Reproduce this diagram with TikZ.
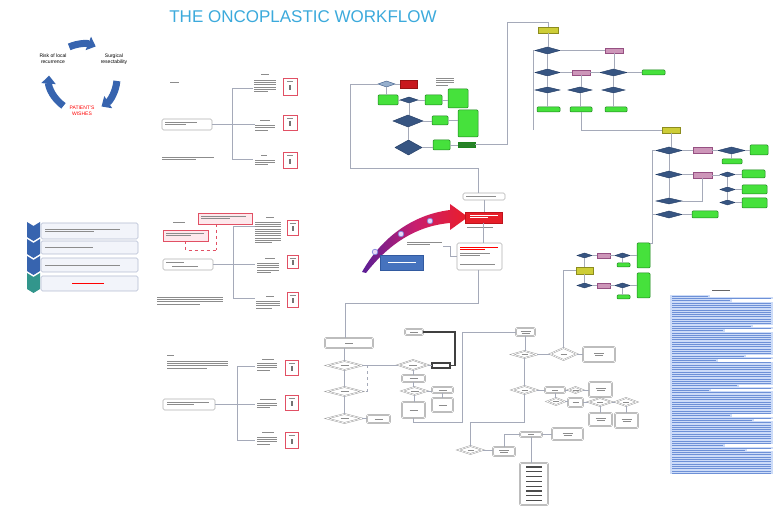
\documentclass[tikz,border=0pt]{standalone}
\usepackage{fontspec}
\setmainfont{Liberation Sans}
\usetikzlibrary{shapes.geometric,arrows.meta,calc}
\definecolor{ttl}{RGB}{60,170,220}
\definecolor{cyc}{RGB}{55,100,175}
\definecolor{chvt}{RGB}{50,150,140}
\definecolor{grn}{RGB}{70,225,60}
\definecolor{grnd}{RGB}{30,130,30}
\definecolor{dgrn}{RGB}{40,130,40}
\definecolor{dia}{RGB}{55,85,130}
\definecolor{diad}{RGB}{35,60,100}
\definecolor{dial}{RGB}{150,175,205}
\definecolor{pnk}{RGB}{205,150,185}
\definecolor{pnkd}{RGB}{150,80,130}
\definecolor{yel}{RGB}{205,205,55}
\definecolor{yeld}{RGB}{140,140,30}
\definecolor{lnk}{RGB}{165,170,185}
\definecolor{rbx}{RGB}{225,80,100}
\definecolor{rbxf}{RGB}{253,232,236}
\definecolor{txg}{RGB}{140,140,140}
\definecolor{nhl}{RGB}{205,220,248}
\definecolor{nbl}{RGB}{110,145,215}
\definecolor{cbl}{RGB}{70,115,190}
\definecolor{cbld}{RGB}{50,90,160}
\definecolor{rdf}{RGB}{200,25,30}
\definecolor{rdd}{RGB}{150,20,20}
\definecolor{crf}{RGB}{230,30,40}
\definecolor{crd}{RGB}{190,20,30}
\definecolor{lbf}{RGB}{242,244,250}
\definecolor{lbd}{RGB}{180,188,210}
\definecolor{arP}{RGB}{90,30,150}
\definecolor{arM}{RGB}{200,30,110}
\definecolor{arR}{RGB}{235,30,40}
\definecolor{ciD}{RGB}{120,130,220}
\definecolor{ciF}{RGB}{230,215,245}
\newcommand\mybx[6]{\node[#2, minimum width={(#5-#3)*1pt}, minimum height={(#6-#4)*1pt}] (#1) at ({(#3+#5)/2},{(#4+#6)/2}) {};}
\newcommand\mytb[5][txg]{%
  \foreach \i in {1,...,#5}{%
    \pgfmathsetmacro\mylen{((\i==#5)&&(#5>1))?0.65*#4:#4}%
    \draw[#1, line width=0.7pt] (#2,{#3+(\i-1)*2.3}) -- ++(\mylen,0);
  }%
}
\begin{document}
\begin{tikzpicture}[x=1pt,y=-1pt,
  every node/.style={inner sep=0pt, outer sep=0pt},
  ln/.style={draw=lnk, line width=0.5pt},
  gb/.style={draw=grnd, fill=grn, rounded corners=1pt, line width=0.5pt},
  dg/.style={draw=grnd, fill=dgrn, line width=0.5pt},
  dd/.style={diamond, draw=diad, fill=dia, line width=0.4pt},
  ld/.style={diamond, draw=dia, fill=dial, line width=0.4pt},
  pb/.style={draw=pnkd, fill=pnk, line width=0.4pt},
  yb/.style={draw=yeld, fill=yel, line width=0.4pt},
  rd/.style={draw=rdd, fill=rdf},
  crbox/.style={draw=crd, fill=crf},
  wb/.style={draw=gray!80, double, double distance=0.7pt, rounded corners=1.2pt, line width=0.45pt, fill=white},
  wd/.style={diamond, draw=gray!80, double, double distance=0.6pt, line width=0.45pt, fill=white},
  thk/.style={draw=black!75, line width=1.1pt, fill=white},
  gbox/.style={draw=gray!60, rounded corners=1.5pt, line width=0.6pt, fill=white},
  rbox/.style={draw=rbx, line width=0.7pt, fill=white},
  pinkbox/.style={draw=rbx, line width=0.7pt, fill=rbxf},
  bluebox/.style={draw=cbld, fill=cbl},
  cyctxt/.style={font=\fontsize{5}{5.6}\selectfont, align=center}
]
\fill[white] (0,0) rectangle (777,510);
\useasboundingbox (0,0) rectangle (777,510);

% title
\node[text=ttl, font=\fontsize{17}{19}\selectfont] (title) at (303,17) {THE ONCOPLASTIC WORKFLOW};

% cycle
\draw[cyc, line width=7pt, -{Triangle[width=14pt,length=8pt]}] ({83+34*cos(114)},{78-34*sin(114)}) arc[start angle=-114, end angle=-68, radius=34];
\draw[cyc, line width=7pt, -{Triangle[width=14pt,length=8pt]}] ({83+34*cos(5)},{78+34*sin(5)}) arc[start angle=5, end angle=57, radius=34];
\draw[cyc, line width=7pt, -{Triangle[width=14pt,length=8pt]}] ({83+34*cos(125)},{78+34*sin(125)}) arc[start angle=125, end angle=184, radius=34];
\node[cyctxt] (risk) at (53,59) {Risk of local\\recurrence};
\node[cyctxt] (surg) at (114,59) {Surgical\\resectability};
\node[cyctxt, text=red] (pat) at (82,111) {PATIENT'S\\WISHES};

% chevron list
\foreach \ya/\yb/\cc in {222/237/cyc, 239/254/cyc, 256/271/cyc, 273/289/chvt}{
  \fill[\cc] (27,\ya) -- (33.5,{\ya+4}) -- (40,\ya) -- (40,\yb) -- (33.5,{\yb+4}) -- (27,\yb) -- cycle;
}
\foreach \ya/\yb in {223/239, 241/254, 258/272, 276/291}{
  \draw[fill=lbf, draw=lbd, rounded corners=1.5pt, line width=0.6pt] (41,\ya) rectangle (138,\yb);
}
\mytb{45}{229}{75}{2}
\mytb{45}{247.5}{48}{1}
\mytb{45}{265}{75}{1}
\mytb[red]{72}{283.5}{32}{1}

% panel 1
\mytb{170}{82}{9}{1}
\mybx{pa}{gbox}{162}{119}{212}{130}
\mytb{165}{122.5}{32}{2}
\mytb{162}{157}{52}{2}
\coordinate (pa1) at (253,88); \coordinate (pa2) at (255,124.5); \coordinate (pa3) at (253,159);
\coordinate (sa1) at (232,88); \coordinate (sa3) at (232,159);
\draw[ln] (pa.east) -- (pa2);
\draw[ln] (pa1) -- (sa1) -- (sa3) -- (pa3);
\mytb{261}{74}{8}{1}\mytb{254}{80}{22}{6}
\mytb{260}{120}{10}{1}\mytb{255}{125.5}{20}{3}
\mytb{261}{155}{6}{1}\mytb{255}{160}{20}{3}
\mybx{ra1}{rbox}{283}{78}{297}{95}
\mybx{ra2}{rbox}{283}{115}{297}{130}
\mybx{ra3}{rbox}{283}{152}{297}{168}

% panel 2
\mytb{173}{222}{12}{1}
\mybx{pr1}{pinkbox}{198}{213}{252}{224}
\mytb{201}{216.5}{45}{2}
\mybx{pr2}{pinkbox}{163}{230}{208}{241}
\mytb{166}{233.5}{38}{2}
\mybx{pbx}{gbox}{163}{259}{213}{270}
\mytb{166}{262.5}{18}{1}\mytb{172}{266}{26}{1}
\mytb{157}{297}{66}{4}
\coordinate (pj) at (216,250);
\draw[rbx, dashed, line width=0.5pt] (pr2.south) |- (pj);
\draw[rbx, dashed, line width=0.5pt] (pr1.south -| pj) -- (pj);
\coordinate (pb1) at (255,226); \coordinate (pb2) at (255,264.5); \coordinate (pb3) at (255,298);
\coordinate (sb1) at (233,226); \coordinate (sb3) at (233,298);
\draw[ln] (pbx.east) -- (pb2);
\draw[ln] (pb1) -- (sb1) -- (sb3) -- (pb3);
\mytb{266}{217}{8}{1}\mytb{255}{222}{26}{10}
\mytb{265}{258}{10}{1}\mytb{257}{263}{22}{5}
\mytb{266}{296}{8}{1}\mytb{256}{301}{24}{4}
\mybx{rb1}{rbox}{287}{220}{298}{235}
\mybx{rb2}{rbox}{287}{255}{298}{268}
\mybx{rb3}{rbox}{287}{292}{298}{307}

% panel 3
\mytb{167}{355}{7}{1}
\mytb{167}{361}{61}{4}
\mybx{pc}{gbox}{163}{399}{215}{410}
\mytb{167}{402.5}{42}{2}
\coordinate (pc1) at (255,366); \coordinate (pc2) at (255,404.5); \coordinate (pc3) at (255,440);
\coordinate (sc1) at (237,366); \coordinate (sc3) at (237,440);
\draw[ln] (pc.east) -- (pc2);
\draw[ln] (pc1) -- (sc1) -- (sc3) -- (pc3);
\mytb{262}{359}{12}{1}\mytb{257}{363}{20}{4}
\mytb{260}{399}{16}{1}\mytb{257}{403}{20}{3}
\mytb{262}{432}{12}{1}\mytb{257}{437}{20}{4}
\mybx{rc1}{rbox}{285}{360}{298}{375}
\mybx{rc2}{rbox}{285}{395}{298}{410}
\mybx{rc3}{rbox}{285}{432}{298}{448}
\foreach \n in {ra1,ra2,ra3,rb1,rb2,rb3,rc1,rc2,rc3}{
  \draw[txg, line width=0.6pt] ($(\n.north)+(-3,3)$) -- ++(6,0);
  \fill[black!55] ($(\n.center)+(-1,-1)$) rectangle ++(2,5);
}

% central arrow
\shade[left color=arP, right color=arR, middle color=arM]
  (362,272) .. controls (380,240) and (410,215) .. (450,210) -- (450,204) -- (468,217) -- (450,230) -- (450,223) .. controls (415,226) and (388,245) .. (366,273) -- cycle;
\foreach \px/\py in {375/252, 401/234, 430/221}{
  \draw[draw=ciD, fill=ciF, line width=0.6pt] (\px,\py) circle (2.8);
}
\mybx{cb}{bluebox}{380}{255}{423}{270}
\mytb[white]{388}{262}{28}{1}
\mytb{407}{242}{35}{2}
\mybx{ct}{gbox}{463}{193}{505}{200}
\mytb{466}{196.5}{30}{1}
\mybx{cr}{crbox}{465}{212}{502}{223}
\mytb[white]{470}{215.5}{28}{2}
\mytb{467}{227}{26}{1}
\mybx{cw}{gbox}{457}{243}{502}{270}
\mytb[red]{460}{247}{38}{2}
\mytb{460}{253.5}{30}{2}
\mytb{460}{264}{35}{1}
\coordinate (cj) at (450,246);
\draw[ln] (443,246) -- (cj) |- (cw.west);
\draw[ln] (ct.south) -- (ct.south |- cr.north);
\draw[ln] (cr.south) -- (cr.south |- cw.north);

% top green flowchart
\mybx{td1}{ld}{378}{81}{395}{87}
\mybx{tr}{rd}{400}{80}{417}{88}
\mytb{436}{78}{18}{4}
\mybx{tg1}{gb}{378}{95}{398}{105}
\mybx{td2}{dd}{400}{97}{418}{103}
\mybx{tg2}{gb}{425}{95}{442}{105}
\mybx{tg3}{gb}{448}{89}{468}{108}
\mybx{td3}{dd}{393}{115}{423}{127}
\mybx{tg4}{gb}{432}{116}{448}{125}
\mybx{tg5}{gb}{458}{110}{478}{137}
\mybx{td4}{dd}{395}{140}{422}{155}
\mybx{tg6}{gb}{433}{140}{450}{150}
\mybx{tg7}{dg}{458}{142}{475}{147}
\draw[ln] (td1.east) -- (tr.west);
\draw[ln] (td1.south) -- (td1.south |- tg1.north);
\draw[ln] (tg1.east) -- (td2.west);
\draw[ln] (td2.east) -- (tg2.west);
\draw[ln] (tg2.east) -- (tg2.east -| tg3.west);
\draw[ln] (td2.south) -- (td2.south |- td3.north);
\draw[ln] (td3.east) -- (td3.east -| tg4.west);
\draw[ln] (tg4.east) -- (tg4.east -| tg5.west);
\draw[ln] (td3.south) -- (td3.south |- td4.north);
\draw[ln] (td4.east) -- (td4.east -| tg6.west);
\draw[ln] (tg6.east) -- (tg6.east -| tg7.west);
\coordinate (f1) at (350,168); \coordinate (f2) at (478,168);
\draw[ln] (td1.west) -| (f1) -- (f2) -- (f2 |- ct.north);

% top right flowchart
\mybx{yb1}{yb}{538}{27}{558}{33}
\mybx{rd1}{dd}{535}{47}{560}{54}
\mybx{rp1}{pb}{605}{48}{623}{53}
\mybx{rd2}{dd}{535}{69}{560}{76}
\mybx{rp2}{pb}{572}{70}{590}{75}
\mybx{rd3}{dd}{600}{69}{627}{76}
\mybx{rg1}{gb}{642}{70}{665}{75}
\mybx{rd4}{dd}{535}{87}{560}{93}
\mybx{rd5}{dd}{568}{87}{592}{93}
\mybx{rd6}{dd}{602}{87}{625}{93}
\mybx{rg2}{gb}{537}{107}{560}{112}
\mybx{rg3}{gb}{570}{107}{592}{112}
\mybx{rg4}{gb}{605}{107}{627}{112}
\coordinate (c1) at (507,22);
\draw[ln] (tg7.east) -| (c1) -| (yb1.north);
\draw[ln] (yb1.south) -- (yb1.south |- rd1.north);
\draw[ln] (rd1.east) -- (rd1.east -| rp1.west);
\draw[ln] (rd1.south) -- (rd1.south |- rd2.north);
\draw[ln] (rd2.east) -- (rp2.west);
\draw[ln] (rp2.east) -- (rd3.west);
\draw[ln] (rd3.east) -- (rd3.east -| rg1.west);
\draw[ln] (rp1.south) -- (rp1.south |- rd3.north);
\draw[ln] (rd2.south) -- (rd2.south |- rd4.north);
\draw[ln] (rd4.south) -- (rd4.south |- rg2.north);
\draw[ln] (rp2.south) -- (rp2.south |- rd5.north);
\draw[ln] (rd5.south) -- (rd5.south |- rg3.north);
\draw[ln] (rd3.south) -- (rd3.south |- rd6.north);
\draw[ln] (rd6.south) -- (rd6.south |- rg4.north);
\coordinate (c4) at (533,130);
\draw[ln] (rd1.west) -| (c4);

% right flowchart
\mybx{yb2}{yb}{662}{127}{680}{133}
\mybx{qd1}{dd}{656}{147}{682}{154}
\mybx{qp1}{pb}{693}{147}{712}{153}
\mybx{qd2}{dd}{718}{147}{745}{154}
\mybx{qg1}{gb}{750}{145}{768}{155}
\mybx{qg2}{gb}{722}{159}{742}{164}
\mybx{qd3}{dd}{656}{171}{682}{178}
\mybx{qp2}{pb}{693}{172}{712}{178}
\mybx{qs1}{dd}{720}{172}{735}{177}
\mybx{qs2}{dd}{720}{187}{735}{192}
\mybx{qs3}{dd}{720}{200}{735}{205}
\mybx{qg3}{gb}{742}{170}{765}{178}
\mybx{qg4}{gb}{742}{185}{767}{194}
\mybx{qg5}{gb}{742}{198}{767}{208}
\mybx{qd4}{dd}{656}{198}{682}{204}
\mybx{qd5}{dd}{656}{211}{682}{218}
\mybx{qg6}{gb}{692}{211}{718}{218}
\draw[ln] (rg3.south) |- (yb2.west);
\draw[ln] (yb2.south) -- (yb2.south |- qd1.north);
\draw[ln] (qd1.east) -- (qd1.east -| qp1.west);
\draw[ln] (qp1.east) -- (qp1.east -| qd2.west);
\draw[ln] (qd2.east) -- (qd2.east -| qg1.west);
\draw[ln] (qd2.south) -- (qd2.south |- qg2.north);
\draw[ln] (qd1.south) -- (qd1.south |- qd3.north);
\draw[ln] (qd3.east) -- (qd3.east -| qp2.west);
\draw[ln] (qp2.east) -- (qp2.east -| qs1.west);
\draw[ln] (qs1.east) -- (qs1.east -| qg3.west);
\draw[ln] (qs1.south) -- (qs2.north);
\draw[ln] (qs2.south) -- (qs3.north);
\draw[ln] (qs2.east) -- (qs2.east -| qg4.west);
\draw[ln] (qs3.east) -- (qs3.east -| qg5.west);
\draw[ln] (qd3.south) -- (qd3.south |- qd4.north);
\draw[ln] (qp2.south) |- (qd4.east);
\draw[ln] (qd5.east) -- (qd5.east -| qg6.west);

% lower right colored
\mybx{gt1}{gb}{637}{243}{650}{268}
\mybx{gt2}{gb}{637}{273}{650}{298}
\mybx{ld1}{dd}{577}{253}{592}{258}
\mybx{lp1}{pb}{597}{253}{610}{258}
\mybx{ld2}{dd}{615}{253}{630}{258}
\mybx{lg1}{gb}{617}{263}{630}{267}
\mybx{ly}{yb}{576}{267}{593}{274}
\mybx{ld3}{dd}{577}{283}{592}{288}
\mybx{lp2}{pb}{597}{283}{610}{288}
\mybx{ld4}{dd}{615}{283}{630}{288}
\mybx{lg2}{gb}{617}{295}{630}{299}
\coordinate (c2) at (652,243);
\draw[ln] (qd1.west) -| (c2) -- (gt1.north east);
\draw[ln] (qd5.west) -- (qd5.west -| c2);
\draw[ln] (ld1.east) -- (lp1.west);
\draw[ln] (lp1.east) -- (ld2.west);
\draw[ln] (ld2.east) -- (ld2.east -| gt1.west);
\draw[ln] (ld2.south) -- (ld2.south |- lg1.north);
\draw[ln] (ly.north) -- (ly.north |- ld1.south);
\draw[ln] (ly.south) -- (ly.south |- ld3.north);
\draw[ln] (ld3.east) -- (lp2.west);
\draw[ln] (lp2.east) -- (ld4.west);
\draw[ln] (ld4.east) -- (ld4.east -| gt2.west);
\draw[ln] (ld4.south) -- (ld4.south |- lg2.north);

% lower middle flowchart
\mybx{mb}{wb}{325}{338}{373}{348}
\mybx{md1}{wd}{327}{361}{362}{370}
\mybx{md2}{wd}{327}{387}{362}{396}
\mybx{md3}{wd}{327}{414}{362}{423}
\mybx{mb2}{wb}{367}{415}{390}{423}
\mybx{md4}{wd}{398}{360}{428}{370}
\mybx{mb3}{thk}{432}{363}{450}{368}
\mybx{mb4}{wb}{405}{329}{423}{335}
\mybx{mb5}{wb}{402}{375}{425}{382}
\mybx{md5}{wd}{402}{387}{427}{395}
\mybx{mb6}{wb}{432}{387}{453}{393}
\mybx{mb7}{wb}{402}{402}{425}{418}
\mybx{mb8}{wb}{432}{398}{453}{412}
\coordinate (f3) at (478,303); \coordinate (f4) at (345,303);
\draw[ln] (cw.south -| f3) -- (f3) -- (f4) -- (f4 |- mb.north);
\draw[ln] (md1.north |- mb.south) -- (md1.north);
\draw[ln] (md1.south) -- (md2.north);
\draw[ln] (md2.south) -- (md3.north);
\draw[ln] (md3.east) -- (md3.east -| mb2.west);
\coordinate (mj) at (367,365.5);
\draw[ln] (md1.east) -- (mj) -- (mj -| md4.west);
\draw[ln, dashed] (mj) |- (md2.east);
\draw[ln] (md4.east) -- (md4.east -| mb3.west);
\coordinate (c3) at (455,332);
\draw[black!75, line width=1.1pt] (mb4.east) -- (c3) |- (mb3.east);
\draw[ln] (md4.south) -- (md4.south |- mb5.north);
\draw[ln] (mb5.south) -- (mb5.south |- md5.north);
\draw[ln] (md5.south) -- (md5.south |- mb7.north);
\draw[ln] (md5.east) -- (md5.east -| mb6.west);
\draw[ln] (mb6.south) -- (mb6.south |- mb8.north);
\foreach \n in {mb,mb2,mb4,mb5,mb6,mb7,mb8,md1,md2,md3,md4,md5}{
  \draw[txg, line width=0.6pt] ($(\n.center)+(-4,0)$) -- ++(8,0);
}

% lower right flowchart
\mybx{nb0}{wb}{516}{328}{535}{336}
\mybx{nd1}{wd}{512}{351}{537}{358}
\mybx{nd2}{wd}{550}{348}{577}{360}
\mybx{nb1}{wb}{583}{347}{615}{362}
\mybx{nd3}{wd}{512}{386}{537}{394}
\mybx{nb2}{wb}{545}{387}{565}{393}
\mybx{nd4}{wd}{568}{387}{583}{393}
\mybx{nb3}{wb}{589}{382}{612}{397}
\mybx{nd5}{wd}{547}{398}{565}{405}
\mybx{nb4}{wb}{568}{398}{583}{407}
\mybx{nd6}{wd}{588}{398}{612}{406}
\mybx{nd7}{wd}{615}{398}{637}{406}
\mybx{nb5}{wb}{589}{413}{612}{426}
\mybx{nb6}{wb}{615}{413}{638}{428}
\mybx{nb7}{wb}{520}{432}{542}{437}
\mybx{nb8}{wb}{552}{428}{583}{440}
\mybx{nd8}{wd}{458}{446}{483}{454}
\mybx{nb9}{wb}{493}{447}{515}{456}
\mybx{ntall}{wb}{520}{463}{548}{505}
\coordinate (f5) at (462,422);
\draw[ln] (mb7.south) |- (f5) |- (nb0.west);
\draw[ln] (ly.west) -| (nd2.north);
\draw[ln] (nb0.south) -- (nb0.south |- nd1.north);
\draw[ln] (nd1.south) -- (nd1.south |- nd3.north);
\draw[ln] (nd1.east) -- (nd1.east -| nd2.west);
\draw[ln] (nd2.east) -- (nd2.east -| nb1.west);
\draw[ln] (nd3.east) -- (nd3.east -| nb2.west);
\draw[ln] (nb2.east) -- (nd4.west);
\draw[ln] (nd4.east) -- (nd4.east -| nb3.west);
\draw[ln] (nb2.south) -- (nb2.south |- nd5.north);
\draw[ln] (nd5.east) -- (nd5.east -| nb4.west);
\draw[ln] (nb4.east) -- (nb4.east -| nd6.west);
\draw[ln] (nd6.east) -- (nd6.east -| nd7.west);
\draw[ln] (nd6.south) -- (nd6.south |- nb5.north);
\draw[ln] (nd7.south) -- (nd7.south |- nb6.north);
\coordinate (f8) at (470.5,422);
\draw[ln] (nd3.south) |- (f8) -- (nd8.north);
\draw[ln] (nd8.east) -- (nd8.east -| nb9.west);
\draw[ln] (nb7.east) -- (nb7.east -| nb8.west);
\draw[ln] (nb7.south) -- (nb7.south |- ntall.north);
\draw[ln] (nb7.west) -| (nb9.north);
\foreach \n in {nb0,nb1,nb3,nb5,nb6,nb8,nb9}{
  \draw[txg, line width=0.6pt] ($(\n.center)+(-5,-1)$) -- ++(10,0);
  \draw[txg, line width=0.6pt] ($(\n.center)+(-4,1.2)$) -- ++(8,0);
}
\foreach \n in {nd1,nd2,nd3,nd4,nd5,nd6,nd7,nd8,nb2,nb4,nb7}{
  \draw[txg, line width=0.6pt] ($(\n.center)+(-3,0)$) -- ++(6,0);
}
\foreach \k in {0,...,7}{
  \draw[black!70, line width=1.2pt] (526,{467+\k*4.8}) -- ++(16,0);
}

% notes panel
\draw[black!60, line width=0.9pt] (712,290) -- ++(18,0);
\foreach \i in {0,...,77}{
  \pgfmathsetmacro\yy{296+\i*2.3}
  \pgfmathsetmacro\ww{mod(\i*7,13)<2 ? 40+mod(\i*11,50) : 103}
  \fill[nhl] (670,{\yy-1.15}) rectangle ++(\ww,2.3);
  \draw[nbl, line width=0.45pt] (672,\yy) -- ++({\ww-4},0);
}
\end{tikzpicture}
\end{document}
